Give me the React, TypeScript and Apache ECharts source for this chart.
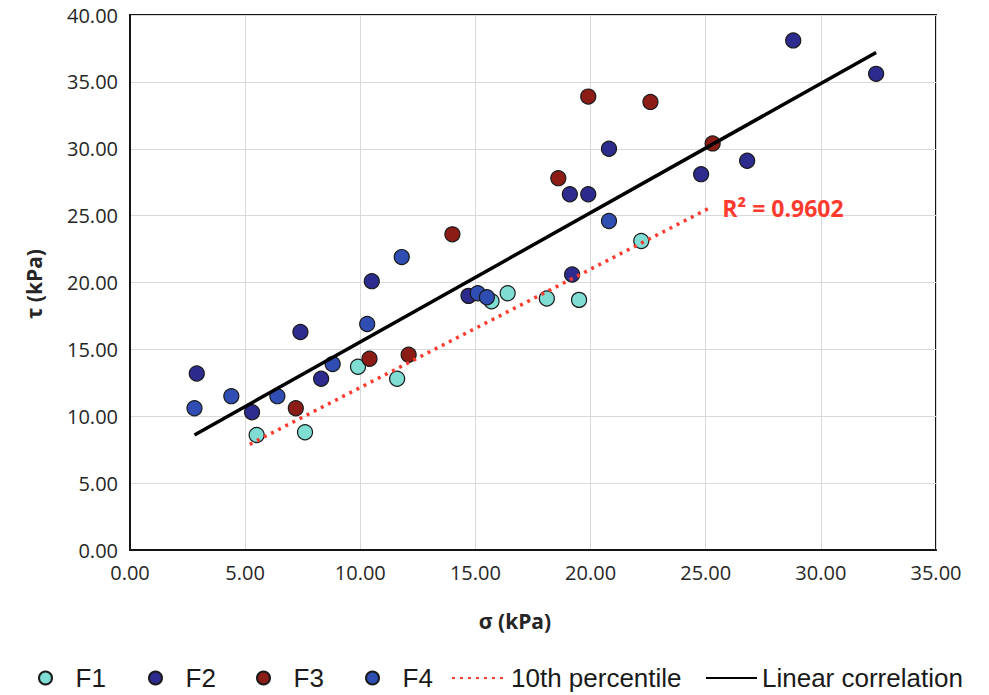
import React, { useEffect, useRef } from 'react';
import * as echarts from 'echarts';

// sigma (kPa), tau (kPa) pairs per group
const f1: number[][] = [
  [5.5, 8.6], [7.6, 8.8], [9.9, 13.7], [11.6, 12.8], [15.7, 18.6],
  [16.4, 19.2], [18.1, 18.8], [19.5, 18.7], [22.2, 23.1],
];
const f2: number[][] = [
  [2.9, 13.2], [5.3, 10.3], [7.4, 16.3], [8.3, 12.8], [10.5, 20.1],
  [14.7, 19.0], [19.2, 20.6], [19.1, 26.6], [19.9, 26.6], [20.8, 30.0],
  [24.8, 28.1], [26.8, 29.1], [28.8, 38.1], [32.4, 35.6],
];
const f3: number[][] = [
  [7.2, 10.6], [10.4, 14.3], [12.1, 14.6], [14.0, 23.6], [18.6, 27.8],
  [19.9, 33.9], [22.6, 33.5], [25.3, 30.4],
];
const f4: number[][] = [
  [2.8, 10.6], [4.4, 11.5], [6.4, 11.5], [8.8, 13.9], [10.3, 16.9],
  [11.8, 21.9], [15.1, 19.2], [15.5, 18.9], [20.8, 24.6],
];
const percentile10: number[][] = [[5.2, 7.9], [25.2, 25.6]];
const linearCorrelation: number[][] = [[2.8, 8.6], [32.4, 37.2]];
const r2Text = 'R\u00B2 = 0.9602';

const seriesNames = ['F1', 'F2', 'F3', 'F4', '10th percentile', 'Linear correlation'];
const groupColors = ['#7FDDD4', '#2D2B8E', '#8C1C16', '#2F4DB3'];
const xTitle = '\u03C3 (kPa)';
const yTitle = '\u03C4 (kPa)';

export default function App() {
  const ref = useRef<HTMLDivElement>(null);
  useEffect(() => {
    const chart = echarts.init(ref.current!, null, { renderer: 'svg' });
    const groups = [f1, f2, f3, f4];
    const scatter = groups.map((d, i) => ({
      name: seriesNames[i],
      type: 'scatter',
      data: d,
      symbol: 'circle',
      symbolSize: 15,
      z: 2,
      itemStyle: { color: groupColors[i], borderColor: '#1a1a1a', borderWidth: 1.2, opacity: 1 },
    }));
    const legendFont = { fontFamily: 'Liberation Sans, Arial, sans-serif', fontSize: 26, color: '#1a1a1a' };
    const legendPos = [
      { name: 'F1', left: 38, w: 50 },
      { name: 'F2', left: 148, w: 50 },
      { name: 'F3', left: 256, w: 50 },
      { name: 'F4', left: 365, w: 50 },
      { name: '10th percentile', left: 451, w: 54 },
      { name: 'Linear correlation', left: 705, w: 51 },
    ];
    chart.setOption({
      animation: false,
      backgroundColor: '#ffffff',
      grid: {
        left: 130, right: 53, top: 15, bottom: 145,
        show: true, borderColor: '#151515', borderWidth: 2, backgroundColor: 'transparent',
      },
      legend: legendPos.map((p) => ({
        data: [p.name],
        left: p.left,
        top: 665,
        padding: 0,
        itemWidth: p.w,
        itemHeight: 13,
        selectedMode: false,
        textStyle: legendFont,
      })),
      xAxis: {
        type: 'value', min: 0, max: 35, interval: 5,
        axisLine: { show: true, onZero: false, lineStyle: { color: '#151515', width: 2 } },
        axisTick: { show: false },
        splitLine: { show: true, lineStyle: { color: '#d9d9d9', width: 1 } },
        axisLabel: {
          margin: 12, fontFamily: 'Open Sans', fontSize: 20, color: '#262626',
          formatter: (v: number) => v.toFixed(2),
        },
      },
      yAxis: {
        type: 'value', min: 0, max: 40, interval: 5,
        axisLine: { show: true, onZero: false, lineStyle: { color: '#151515', width: 2 } },
        axisTick: { show: false },
        splitLine: { show: true, lineStyle: { color: '#d9d9d9', width: 1 } },
        axisLabel: {
          margin: 12, fontFamily: 'Open Sans', fontSize: 20, color: '#262626',
          formatter: (v: number) => v.toFixed(2),
        },
      },
      graphic: [
        {
          type: 'text', x: 515, y: 621,
          style: { text: xTitle, fontFamily: 'Open Sans', fontWeight: 'bold', fontSize: 21, fill: '#262626', align: 'center', verticalAlign: 'middle' },
        },
        {
          type: 'text', x: 34, y: 284, rotation: Math.PI / 2,
          style: { text: yTitle, fontFamily: 'Open Sans', fontWeight: 'bold', fontSize: 21, fill: '#262626', align: 'center', verticalAlign: 'middle' },
        },
      ],
      series: [
        ...scatter,
        {
          name: seriesNames[4],
          type: 'line',
          data: percentile10,
          symbol: 'none',
          z: 5,
          lineStyle: { color: '#FF3B2F', width: 3.5, type: [3, 5] },
          itemStyle: { color: 'rgba(0,0,0,0)', borderWidth: 0 },
          endLabel: {
            show: true,
            formatter: r2Text,
            distance: 12,
            color: '#FF3B2F',
            fontFamily: 'Open Sans',
            fontWeight: 'bold',
            fontSize: 23,
          },
        },
        {
          name: seriesNames[5],
          type: 'line',
          data: linearCorrelation,
          symbol: 'none',
          z: 5,
          lineStyle: { color: '#000000', width: 3.5 },
          itemStyle: { color: 'rgba(0,0,0,0)', borderWidth: 0 },
        },
      ],
    });
    return () => chart.dispose();
  }, []);
  return <div ref={ref} style={{ position: 'fixed', left: 0, top: 0, width: 989, height: 695 }} />;
}
